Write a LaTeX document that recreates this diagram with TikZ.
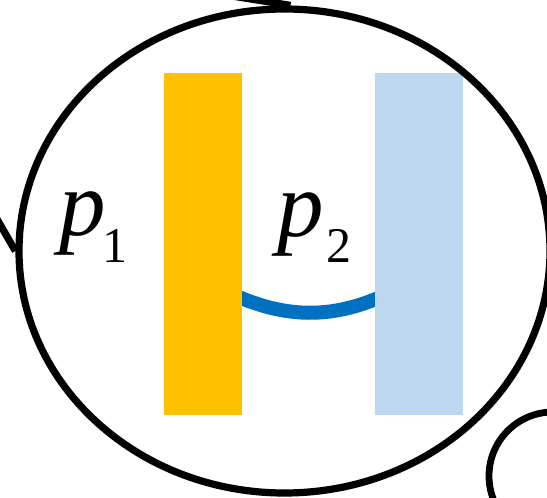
\documentclass[tikz,border=0pt]{standalone}
\usepackage{fontspec}
\setmainfont{Liberation Serif}
\newfontfamily\tnr{Liberation Serif}
\usetikzlibrary{shapes.geometric,backgrounds}
\definecolor{baryellow}{HTML}{FFC000}
\definecolor{barblue}{HTML}{BDD7EE}
\definecolor{arcblue}{HTML}{0070C0}
\begin{document}
\begin{tikzpicture}[x=0.5pt,y=-0.5pt,
  outline/.style={draw=black,line width=3.6pt},
  barbox/.style={draw=none,inner sep=0pt,outer sep=0pt,minimum height=171pt},
  arcline/.style={draw=arcblue,line width=7pt}]
\useasboundingbox (0,0) rectangle (547,498);
% bars
\node[barbox,fill=baryellow,minimum width=39pt] (barA) at (203,244) {};
\node[barbox,fill=barblue,minimum width=44pt] (barB) at (419,244) {};
% connecting arc behind the bars
\begin{scope}[on background layer]
\draw[arcline] ([xshift=-4pt,yshift=-25.5pt]barA.east) .. controls +(52,23) and +(-52,23) .. ([xshift=4pt,yshift=-26pt]barB.west);
\end{scope}
% big oval
\node[ellipse,outline,inner sep=0pt,minimum width=265.5pt,minimum height=242pt] (oval) at (284.5,251) {};
% small circle bottom right
\node[circle,draw=black,line width=3.4pt,inner sep=0pt,minimum size=64pt] (orb) at (553,476) {};
% incoming connectors
\coordinate (tA) at (226,-5);
\coordinate (tB) at (-6,214);
\draw[black,line width=3.6pt] (tA) -- ([xshift=3pt]oval.north);
\draw[black,line width=3.6pt] (tB) -- (oval.west);
% labels
\node[inner sep=0pt,outer sep=0pt,anchor=base west,font=\tnr\fontsize{46.5pt}{46.5pt}\selectfont] (p1) at (60,235) {{\tnr\itshape p}\kern-2pt\raisebox{-13.5pt}{\tnr\fontsize{25pt}{25pt}\selectfont 1}};
\node[inner sep=0pt,outer sep=0pt,anchor=base west,font=\tnr\fontsize{46.5pt}{46.5pt}\selectfont] (p2) at (277,236) {{\tnr\itshape p}\kern1.5pt\raisebox{-13pt}{\tnr\fontsize{25pt}{25pt}\selectfont 2}};
\end{tikzpicture}
\end{document}
